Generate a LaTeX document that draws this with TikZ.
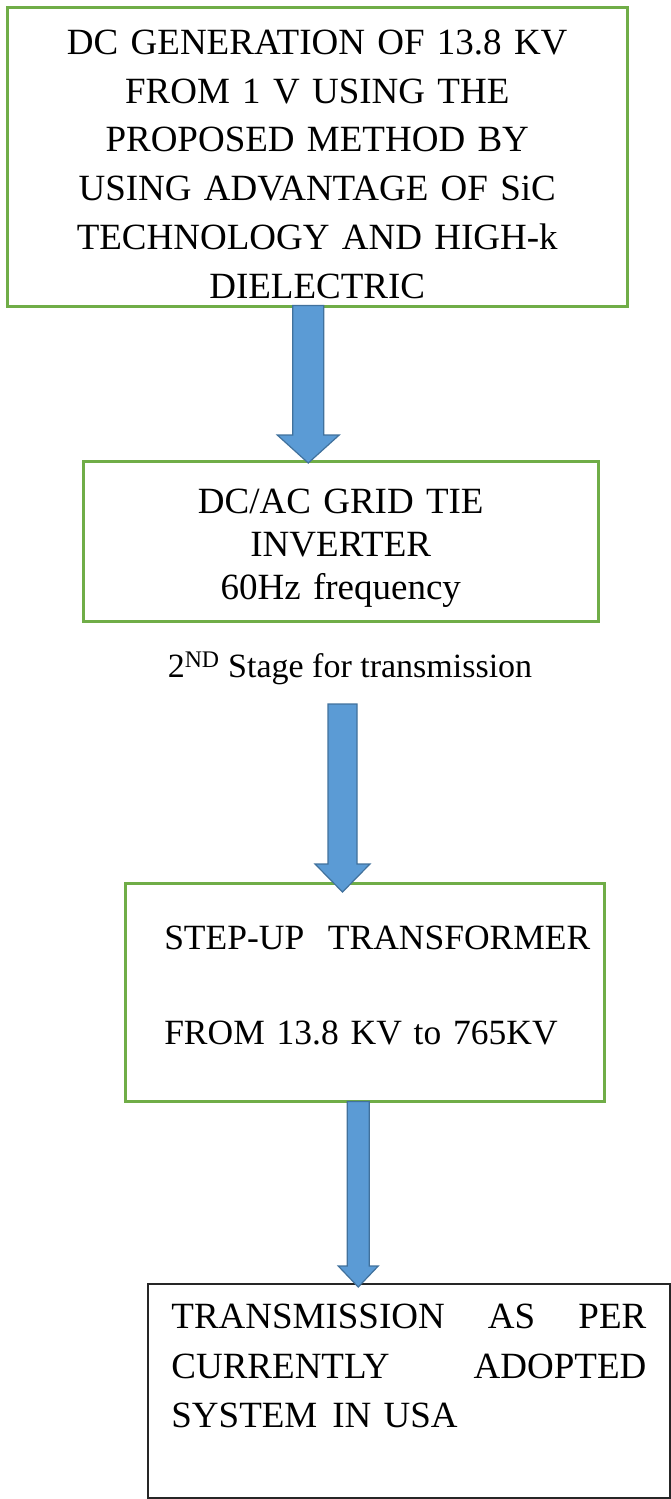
\documentclass[tikz,border=0pt]{standalone}
\usepackage{fontspec}
\setmainfont{Liberation Serif}
\usetikzlibrary{calc,positioning}
\definecolor{boxgreen}{RGB}{112,173,71}
\definecolor{arrowblue}{RGB}{91,155,213}
\definecolor{arrowedge}{RGB}{65,113,156}

\begin{document}
\begin{tikzpicture}[
    x=1pt, y=-1pt,
    block/.style={draw=boxgreen, line width=2.5pt, inner sep=0pt,
        anchor=north west, font=\fontsize{37}{48.8}\selectfont},
    result/.style={block, draw=black!85, line width=1.8pt},
    fatarrow/.style n args={3}{draw=arrowedge, fill=arrowblue,
        line width=1.2pt, line join=miter,
        to path={let \p1=(\tikztostart), \p2=(\tikztotarget) in
            (\x1-#1,\y1) -- (\x1-#1,\y2+#3) -- (\x1-#2,\y2+#3) -- (\x1,\y2)
            -- (\x1+#2,\y2+#3) -- (\x1+#1,\y2+#3) -- (\x1+#1,\y1) -- cycle}}
]
\useasboundingbox (0,0) rectangle (670,1499);

\node[block, text width=620pt, align=center, text height=47pt, text depth=252pt]
    (gen) at (6,6) {DC GENERATION OF 13.8 KV\\ FROM 1 V USING THE\\
    PROPOSED METHOD BY\\ USING ADVANTAGE OF SiC\\ TECHNOLOGY AND HIGH-k\\
    DIELECTRIC};
\node[block, text width=515pt, align=center, text height=52pt, text depth=108pt,
    font=\fontsize{37}{43}\selectfont]
    (inv) at (82,460) {DC/AC GRID TIE\\ INVERTER\\ 60Hz frequency};
\node[font=\fontsize{34}{40}\selectfont, anchor=base]
    (stage) at (350,677) {2\textsuperscript{ND} Stage for transmission};
\node[block, text width=479pt, align=left, text height=66pt, text depth=152pt,
    font=\fontsize{35.5}{47.5}\selectfont]
    (trans) at (124,882) {\hspace*{39pt}\mbox{STEP-UP\ \ TRANSFORMER}\\[47.5pt]
    \hspace*{39pt}FROM 13.8 KV to 765KV};
\node[result, text width=475pt, inner xsep=23.5pt, align=left, text height=45pt,
    text depth=169pt, font=\fontsize{37}{49.5}\selectfont]
    (usa) at (147,1283) {TRANSMISSION\hfill AS\hfill PER\\
    CURRENTLY\hfill ADOPTED\\ SYSTEM\hspace{15pt}IN USA};

\draw[fatarrow={15.5pt}{31pt}{28pt}] ([xshift=-9pt, yshift=2pt]gen.south)
    to ([yshift=-3pt]inv.north);
\draw[fatarrow={14.5pt}{27.5pt}{28pt}] ([xshift=-7.5pt, yshift=-27pt]stage.base)
    to ([yshift=-10pt]trans.north);
\draw[fatarrow={11pt}{20pt}{21pt}] ([xshift=-6.5pt, yshift=1pt]trans.south)
    to ([yshift=-4pt]usa.north);

\end{tikzpicture}
\end{document}
